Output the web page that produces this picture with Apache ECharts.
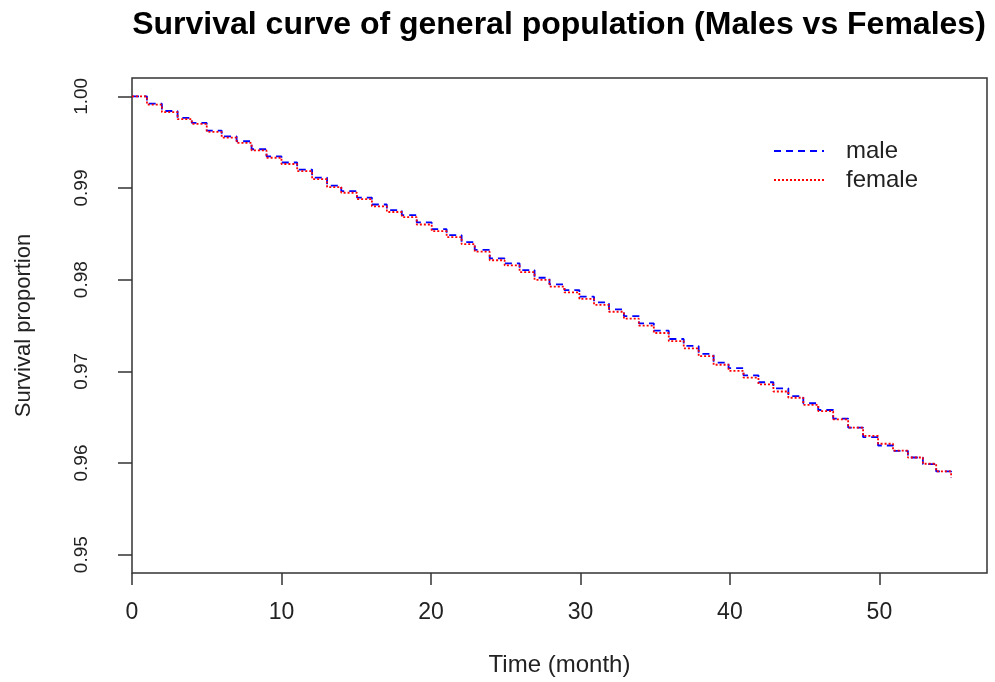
<!DOCTYPE html>
<html>
<head>
<meta charset="utf-8">
<script src="https://cdn.jsdelivr.net/npm/echarts@6/dist/echarts.min.js"></script>
<style>html,body{margin:0;padding:0;background:#fff}#c{width:995px;height:682px}</style>
</head>
<body>
<div id="c"></div>
<script>
var titleText = 'Survival curve of general population (Males vs Females)';
var xTicks = [0, 10, 20, 30, 40, 50];
var yTicks = [0.95, 0.96, 0.97, 0.98, 0.99, 1.00];
var stepTimes = [0, 1, 2, 3.05, 4, 5, 6, 7, 8, 9, 10, 11.05, 12.05, 13.05, 14, 15.05, 16.05, 17.05, 18.05, 19.05, 20.05,
  21.05, 22.05, 22.93, 23.93, 24.93, 25.93, 26.93, 27.93, 28.93, 29.93, 30.91, 31.91, 32.91, 33.91, 34.91,
  35.91, 36.91, 37.91, 38.91, 39.91, 40.91, 41.91, 42.91, 43.91, 44.91, 45.91, 46.91, 47.91, 48.91, 49.91,
  50.91, 51.91, 52.91, 53.8, 54.8];
var maleSurv = [1.0000, 0.99920, 0.99840, 0.99764, 0.99710, 0.99626, 0.99564, 0.99510, 0.99423, 0.99346, 0.99278,
  0.99201, 0.99114, 0.99027, 0.98966, 0.98896, 0.98820, 0.98758, 0.98704, 0.98624, 0.98551,
  0.98486, 0.98410, 0.98326, 0.98232, 0.98177, 0.98105, 0.98021, 0.97949, 0.97887, 0.97814,
  0.97753, 0.97676, 0.97603, 0.97524, 0.97444, 0.97353, 0.97277, 0.97190, 0.97095, 0.97034,
  0.96957, 0.96881, 0.96815, 0.96730, 0.96652, 0.96578, 0.96485, 0.96387, 0.96282, 0.96191,
  0.96133, 0.96060, 0.95988, 0.95908, 0.95842];
var femaleSurv = [1.0000, 0.99910, 0.99828, 0.99752, 0.99700, 0.99612, 0.99550, 0.99492, 0.99410, 0.99330, 0.99262,
  0.99185, 0.99096, 0.99010, 0.98948, 0.98878, 0.98800, 0.98738, 0.98682, 0.98602, 0.98530,
  0.98465, 0.98388, 0.98305, 0.98212, 0.98155, 0.98082, 0.97998, 0.97925, 0.97862, 0.97790,
  0.97725, 0.97650, 0.97575, 0.97498, 0.97418, 0.97330, 0.97250, 0.97165, 0.97072, 0.97005,
  0.96932, 0.96858, 0.96780, 0.96712, 0.96635, 0.96565, 0.96475, 0.96387, 0.96295, 0.96210,
  0.96135, 0.96060, 0.95992, 0.95908, 0.95842];

function pairs(ts, vs) { return ts.map(function (t, i) { return [t, vs[i]]; }); }

var FONT = '"Liberation Sans", Arial, Helvetica, sans-serif';
var chart = echarts.init(document.getElementById('c'), null, {renderer: 'canvas'});
chart.setOption({
  animation: false,
  backgroundColor: '#ffffff',
  title: {
    text: titleText,
    left: 559, top: 9, padding: 0, textAlign: 'center',
    textStyle: {fontFamily: FONT, fontSize: 32, fontWeight: 'bold', color: '#000'}
  },
  legend: {
    orient: 'vertical', left: 773, top: 139, itemGap: 5,
    itemWidth: 50, itemHeight: 14, padding: 0,
    itemStyle: {opacity: 0},
    textStyle: {fontFamily: FONT, fontSize: 24, color: '#222', padding: [0, 0, 0, 17]},
    data: ['male', 'female']
  },
  grid: {
    left: 132, top: 78, right: 8, bottom: 109,
    show: true, borderColor: '#333', borderWidth: 1.5, backgroundColor: 'transparent'
  },
  xAxis: {
    type: 'value', min: 0, max: 57.2,
    name: 'Time (month)', nameLocation: 'middle', nameGap: 80,
    nameTextStyle: {fontFamily: FONT, fontSize: 24, color: '#222'},
    axisLine: {show: false},
    axisTick: {show: true, inside: false, length: 12, lineStyle: {color: '#333', width: 1.5}, customValues: xTicks},
    axisLabel: {fontFamily: FONT, fontSize: 23, color: '#222', margin: 28, customValues: xTicks,
      formatter: function (v) { return String(v); }},
    splitLine: {show: false}
  },
  yAxis: {
    type: 'value', min: 0.948, max: 1.002,
    name: 'Survival proportion', nameLocation: 'middle', nameGap: 97, nameRotate: 90,
    nameTextStyle: {fontFamily: FONT, fontSize: 22, color: '#222'},
    axisLine: {show: false},
    axisTick: {show: true, inside: false, length: 14, lineStyle: {color: '#333', width: 1.5}, customValues: yTicks},
    axisLabel: {fontFamily: FONT, fontSize: 19, color: '#222', margin: 41, rotate: 90, customValues: yTicks,
      formatter: function (v) { return v.toFixed(2); }},
    splitLine: {show: false}
  },
  series: [
    {
      name: 'male', type: 'line', step: 'end', symbol: 'none', showSymbol: false,
      data: pairs(stepTimes, maleSurv),
      lineStyle: {color: '#0000ff', width: 1.8, type: [7, 5]},
      itemStyle: {color: '#0000ff'}, z: 2
    },
    {
      name: 'female', type: 'line', step: 'end', symbol: 'none', showSymbol: false,
      data: pairs(stepTimes, femaleSurv),
      lineStyle: {color: '#ff0000', width: 1.8, type: [2, 2]},
      itemStyle: {color: '#ff0000'}, z: 3
    }
  ]
});
</script>
</body>
</html>
